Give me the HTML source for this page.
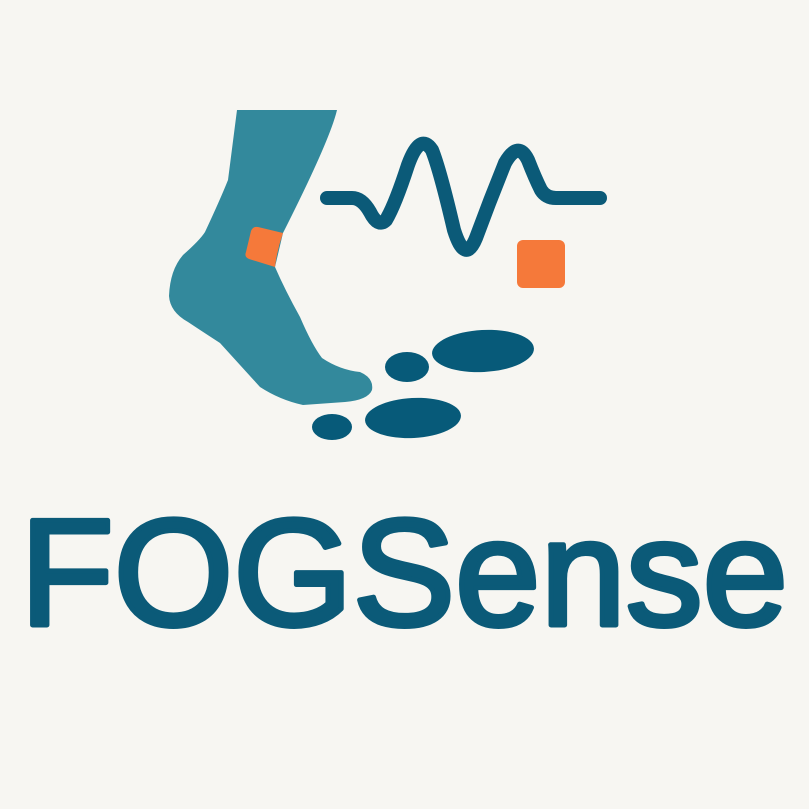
<!DOCTYPE html>
<html><head><meta charset="utf-8"><style>
html,body{margin:0;padding:0;background:#f7f6f2;}
svg{display:block}
</style></head><body>
<svg width="809" height="809" viewBox="0 0 809 809">
<rect width="809" height="809" fill="#f7f6f2"/>
<path fill="#33899c" d="M237,110 L337,110 Q330,140 283,233 L275,267 Q285,290 300,317 Q312,345 322,358 Q340,370 360,372 Q374,378 372,390 Q368,400 345,402 L303,405 Q280,400 260,387 Q240,365 220,343 Q200,330 188,322 Q170,312 169,296 Q170,270 183,255 Q200,240 205,232 Q220,200 228,180 Z"/>
<path fill="#f5793a" d="M258,227 L283,233 Q277,250 275,267 L249,259 Q244,257 246,252 L251,231 Q253,226 258,227 Z"/>
<path fill="none" stroke="#0b5a78" stroke-width="14" stroke-linecap="round" stroke-linejoin="round" d="M327,198 L352,198 Q362,198 370,212 Q378,228 386,220 Q395,205 408,165 Q420,132 432,150 Q440,170 454,230 Q465,265 476,238 Q490,200 505,163 Q518,140 528,160 Q535,178 541,190 Q546,198 556,198 L600,198"/>
<rect x="517" y="240" width="48" height="48" rx="6" fill="#f5793a"/>
<ellipse cx="483" cy="351" rx="51" ry="21" transform="rotate(-3 483 351)" fill="#075a79"/>
<ellipse cx="407" cy="367" rx="22" ry="15" fill="#075a79"/>
<ellipse cx="413" cy="418" rx="48" ry="20" transform="rotate(-3 413 418)" fill="#075a79"/>
<ellipse cx="332" cy="427" rx="20" ry="13" fill="#075a79"/>
<text x="20" y="625" textLength="768" lengthAdjust="spacingAndGlyphs" font-family="Liberation Sans, sans-serif" font-weight="normal" font-size="152" fill="#0b5a78" stroke="#0b5a78" stroke-width="5" stroke-linejoin="round">FOGSense</text>
</svg>
</body></html>
